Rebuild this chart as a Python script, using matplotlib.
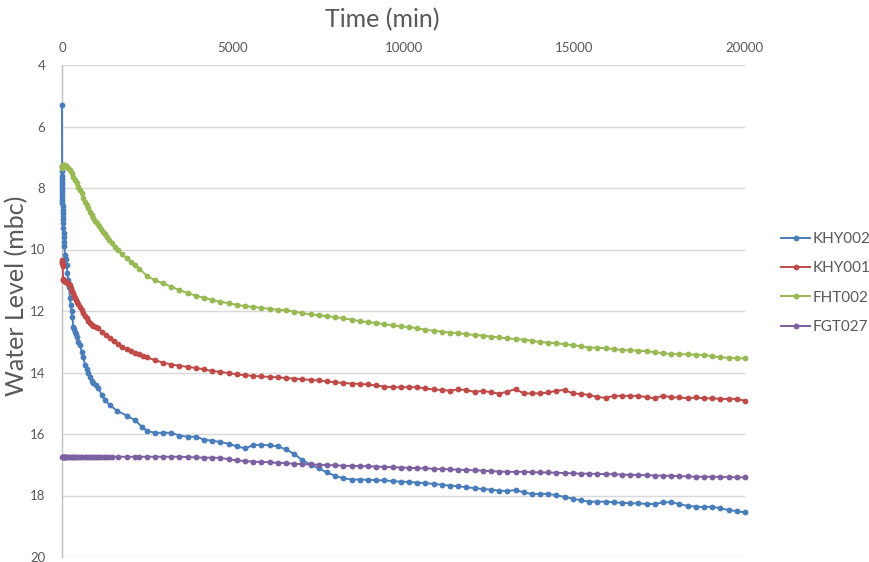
import matplotlib
matplotlib.use("Agg")
import matplotlib.pyplot as plt

plt.rcParams['font.family'] = ['Lato', 'DejaVu Sans']

# ---------------- data ----------------
grid_t = [2480, 2720, 2960, 3200, 3440, 3680, 3920, 4160, 4400, 4640, 4880, 5120, 5360, 5600,
          5840, 6080, 6320, 6560, 6800, 7040, 7280, 7520, 7760, 8000, 8240, 8480, 8720, 8960,
          9200, 9440, 9680, 9920, 10160, 10400, 10640, 10880, 11120, 11360, 11600, 11840, 12080,
          12320, 12560, 12800, 13040, 13280, 13520, 13760, 14000, 14240, 14480, 14720, 14960,
          15200, 15440, 15680, 15920, 16160, 16400, 16640, 16880, 17120, 17360, 17600, 17840,
          18080, 18320, 18560, 18800, 19040, 19280, 19520, 19760, 20000]

# KHY002
khy002_t_early = [0, 1, 2, 3, 4, 5, 6, 7, 8, 9, 10, 12, 14, 16, 18, 20, 25, 30, 35, 40, 45, 50,
                  60, 70, 88, 110, 137, 156, 180, 205, 234, 254, 280, 303, 332, 360, 381, 405,
                  430, 480, 527, 576, 625, 673, 722, 770, 820, 869, 918, 990, 1064, 1162, 1259,
                  1406, 1601, 1894, 2138, 2333]
khy002_v_early = [5.3, 7.3, 7.45, 7.6, 7.7, 7.8, 7.9, 8.0, 8.1, 8.2, 8.3, 8.4, 8.5, 8.6, 8.7,
                  8.8, 8.9, 9.0, 9.15, 9.3, 9.45, 9.6, 9.75, 9.9, 10.18, 10.3, 10.5, 10.77, 11.0,
                  11.21, 11.59, 11.8, 12.0, 12.19, 12.53, 12.6, 12.67, 12.75, 12.85, 13.0, 13.1,
                  13.32, 13.5, 13.76, 13.9, 14.0, 14.14, 14.27, 14.33, 14.42, 14.5, 14.73, 14.9,
                  15.06, 15.24, 15.4, 15.55, 15.76]
khy002_v_grid = [15.9, 15.96, 15.96, 15.96, 16.05, 16.09, 16.09, 16.18, 16.22, 16.26, 16.32,
                 16.4, 16.47, 16.36, 16.35, 16.37, 16.4, 16.5, 16.65, 16.85, 17.0, 17.12, 17.25,
                 17.36, 17.44, 17.48, 17.48, 17.49, 17.5, 17.51, 17.53, 17.55, 17.56, 17.58,
                 17.6, 17.62, 17.65, 17.68, 17.7, 17.73, 17.76, 17.79, 17.81, 17.84, 17.86,
                 17.82, 17.9, 17.95, 17.95, 17.95, 17.99, 18.05, 18.1, 18.16, 18.2, 18.2, 18.2,
                 18.22, 18.24, 18.25, 18.26, 18.27, 18.28, 18.22, 18.22, 18.28, 18.34, 18.36,
                 18.38, 18.36, 18.42, 18.47, 18.51, 18.55]

# KHY001
khy001_t_early = [0, 5, 10, 15, 20, 30, 40, 60, 90, 120, 150, 180, 210, 240, 270, 300, 330, 360,
                  390, 420, 450, 480, 527, 576, 625, 673, 722, 770, 820, 869, 918, 990, 1064,
                  1162, 1280, 1406, 1530, 1650, 1770, 1894, 2016, 2138, 2260, 2381]
khy001_v_early = [10.35, 10.4, 10.45, 10.5, 10.55, 10.95, 11.0, 11.02, 11.03, 11.05, 11.08,
                  11.1, 11.12, 11.15, 11.25, 11.35, 11.42, 11.5, 11.57, 11.64, 11.7, 11.78,
                  11.86, 11.97, 12.07, 12.16, 12.24, 12.31, 12.38, 12.44, 12.49, 12.53, 12.56,
                  12.67, 12.78, 12.89, 12.99, 13.08, 13.16, 13.24, 13.3, 13.35, 13.41, 13.46]
khy001_v_grid = [13.5, 13.6, 13.68, 13.74, 13.78, 13.82, 13.85, 13.9, 13.95, 13.98, 14.02,
                 14.06, 14.09, 14.11, 14.13, 14.14, 14.16, 14.18, 14.2, 14.22, 14.24, 14.26,
                 14.29, 14.32, 14.34, 14.36, 14.37, 14.39, 14.42, 14.46, 14.48, 14.48, 14.48,
                 14.48, 14.52, 14.55, 14.57, 14.59, 14.55, 14.57, 14.63, 14.6, 14.64, 14.69,
                 14.62, 14.54, 14.68, 14.68, 14.68, 14.65, 14.59, 14.57, 14.68, 14.7, 14.73,
                 14.8, 14.82, 14.76, 14.76, 14.76, 14.76, 14.8, 14.84, 14.75, 14.81, 14.81,
                 14.84, 14.81, 14.84, 14.84, 14.86, 14.86, 14.86, 14.92]

# FHT002
fht002_t_early = [0, 10, 20, 40, 60, 88, 120, 150, 186, 230, 284, 330, 381, 430, 478, 527, 576,
                  625, 673, 722, 771, 820, 869, 918, 966, 1030, 1093, 1150, 1211, 1270, 1328,
                  1390, 1455, 1550, 1650, 1770, 1894, 2016, 2138, 2260]
fht002_v_early = [7.35, 7.3, 7.27, 7.25, 7.25, 7.25, 7.27, 7.31, 7.36, 7.43, 7.52, 7.63, 7.74,
                  7.85, 7.96, 8.06, 8.17, 8.31, 8.45, 8.55, 8.66, 8.77, 8.88, 8.97, 9.06, 9.15,
                  9.24, 9.33, 9.42, 9.51, 9.6, 9.7, 9.8, 9.91, 10.02, 10.16, 10.29, 10.4, 10.5,
                  10.62]
fht002_v_grid = [10.85, 11.0, 11.1, 11.21, 11.32, 11.42, 11.5, 11.57, 11.64, 11.7, 11.75, 11.8,
                 11.84, 11.87, 11.9, 11.93, 11.96, 11.98, 12.02, 12.07, 12.11, 12.14, 12.17,
                 12.2, 12.24, 12.28, 12.33, 12.36, 12.39, 12.43, 12.47, 12.5, 12.52, 12.56,
                 12.61, 12.64, 12.67, 12.7, 12.72, 12.75, 12.78, 12.8, 12.83, 12.86, 12.89,
                 12.91, 12.93, 12.97, 13.01, 13.03, 13.05, 13.08, 13.11, 13.15, 13.19, 13.2,
                 13.21, 13.24, 13.27, 13.28, 13.29, 13.31, 13.34, 13.37, 13.4, 13.4, 13.41,
                 13.42, 13.43, 13.47, 13.51, 13.52, 13.54, 13.54]

# FGT027
fgt027_t_early = [0, 20, 40, 60, 80, 100, 130, 160, 200, 240, 280, 320, 360, 400, 450, 500, 550,
                  600, 660, 720, 780, 840, 900, 960, 1020, 1080, 1150, 1220, 1300, 1380, 1455,
                  1650, 1894, 2138, 2260]
fgt027_v_early = [16.76, 16.76, 16.76, 16.76, 16.76, 16.76, 16.76, 16.76, 16.76, 16.75, 16.75,
                  16.75, 16.75, 16.75, 16.75, 16.75, 16.75, 16.75, 16.75, 16.75, 16.75, 16.75,
                  16.75, 16.75, 16.75, 16.75, 16.75, 16.75, 16.75, 16.75, 16.74, 16.74, 16.74,
                  16.74, 16.74]
fgt027_v_grid = [16.74, 16.74, 16.74, 16.74, 16.74, 16.75, 16.76, 16.77, 16.77, 16.78, 16.82,
                 16.86, 16.88, 16.9, 16.91, 16.92, 16.94, 16.95, 16.97, 16.98, 16.99, 17.0,
                 17.01, 17.02, 17.03, 17.04, 17.04, 17.05, 17.06, 17.07, 17.08, 17.09, 17.1,
                 17.11, 17.12, 17.13, 17.14, 17.15, 17.16, 17.17, 17.18, 17.19, 17.21, 17.22,
                 17.23, 17.23, 17.23, 17.24, 17.25, 17.25, 17.26, 17.27, 17.28, 17.29, 17.29,
                 17.3, 17.3, 17.31, 17.32, 17.33, 17.33, 17.34, 17.35, 17.36, 17.36, 17.37,
                 17.38, 17.39, 17.39, 17.39, 17.4, 17.4, 17.41, 17.41]

series_names = ["KHY002", "KHY001", "FHT002", "FGT027"]
series_colors = ["#4A7EBB", "#BE4B48", "#98B954", "#7D60A0"]

series = [
    (khy002_t_early + grid_t, khy002_v_early + khy002_v_grid),
    (khy001_t_early + grid_t, khy001_v_early + khy001_v_grid),
    (fht002_t_early + grid_t, fht002_v_early + fht002_v_grid),
    (fgt027_t_early + grid_t, fgt027_v_early + fgt027_v_grid),
]

x_ticks = [0, 5000, 10000, 15000, 20000]
y_ticks = [4, 6, 8, 10, 12, 14, 16, 18, 20]

# ---------------- figure ----------------
W, H = 869, 562
fig = plt.figure(figsize=(W / 100, H / 100), dpi=100)
ax = fig.add_axes([62 / W, 1 - 557 / H, (745 - 62) / W, (557 - 65) / H])

text_col = "#595959"
grid_col = "#D9D9D9"

for (t, v), name, col in zip(series, series_names, series_colors):
    ax.plot(t, v, color=col, lw=1.4, marker="o", markersize=4.2, markeredgewidth=0,
            label=name, clip_on=False, zorder=3)

ax.set_xlim(0, 20000)
ax.set_ylim(20, 4)
ax.set_xticks(x_ticks)
ax.set_xticklabels([str(x) for x in x_ticks])
ax.set_yticks(y_ticks)
ax.xaxis.tick_top()
ax.tick_params(axis="both", length=0, labelsize=9.5, colors=text_col)
ax.tick_params(axis="x", pad=8)
ax.tick_params(axis="y", pad=12)

ax.grid(axis="y", color=grid_col, lw=1.0)
ax.set_axisbelow(True)
for s in ["right", "bottom", "top"]:
    ax.spines[s].set_visible(False)
ax.spines["left"].set_color("#BFBFBF")
ax.spines["left"].set_linewidth(1.0)

fig.text(382 / W, 1 - 20 / H, "Time (min)", fontsize=18, color=text_col,
         ha="center", va="center")
fig.text(17 / W, 1 - 296 / H, "Water Level (mbc)", fontsize=18, color=text_col,
         ha="center", va="center", rotation=90)

leg = ax.legend(loc="center left", bbox_to_anchor=((781 - 62) / 683, (557 - 283) / 492),
                frameon=False, borderpad=0, borderaxespad=0,
                fontsize=11, handlelength=1.9, handletextpad=0.15, labelspacing=1.0,
                labelcolor=text_col)

fig.savefig("out.png", dpi=100)
